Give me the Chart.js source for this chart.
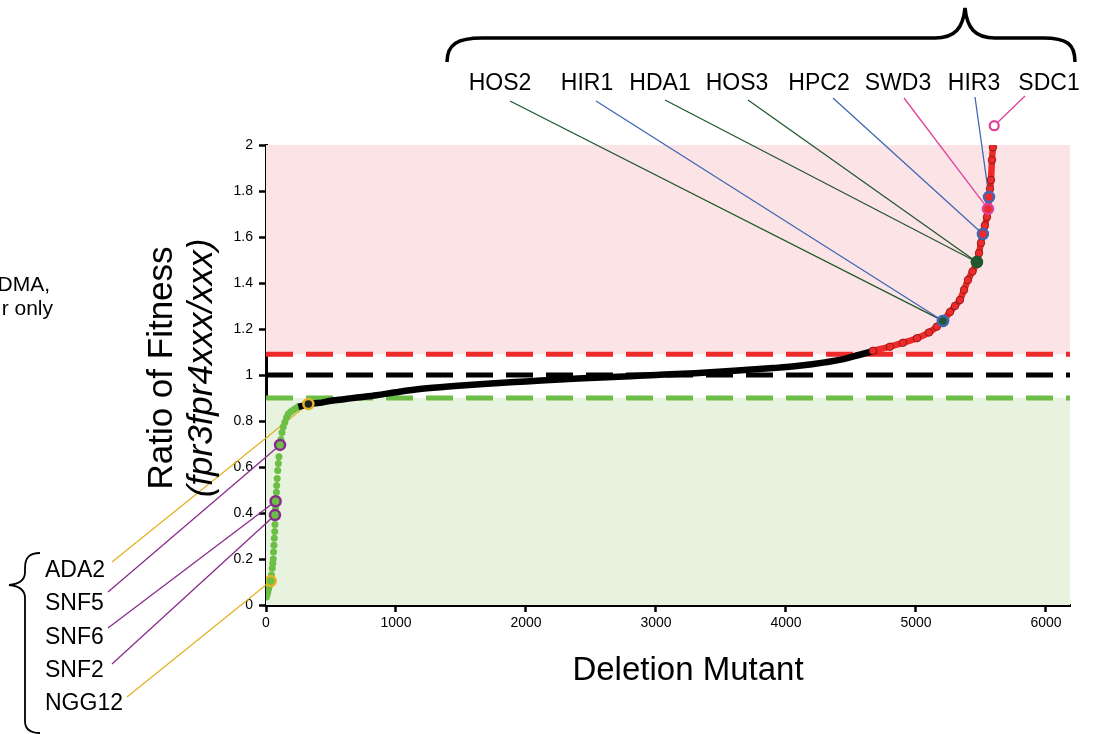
<!DOCTYPE html>
<html>
<head>
<meta charset="utf-8">
<script src="https://cdn.jsdelivr.net/npm/chart.js@4.4.1/dist/chart.umd.min.js"></script>
<style>
  body { margin: 0; background: #fff; }
  canvas { display: block; }
</style>
</head>
<body>
<canvas id="myChart" width="1097" height="734"></canvas>
<script>
// ranked deletion mutants
const lowRanks = [3, 8, 13, 20, 27, 32, 36, 42, 48, 52, 56, 58, 61, 64, 67, 69, 72, 74, 77, 80, 82, 86, 90, 95, 100, 108, 115, 123, 133, 145, 158, 172, 190, 210, 230, 249];
const lowValues = [0.035, 0.045, 0.055, 0.07, 0.085, 0.095, 0.105, 0.13, 0.16, 0.18, 0.2, 0.23, 0.26, 0.29, 0.32, 0.35, 0.39, 0.42, 0.45, 0.49, 0.52, 0.55, 0.585, 0.615, 0.645, 0.69, 0.72, 0.75, 0.775, 0.795, 0.815, 0.83, 0.84, 0.848, 0.855, 0.862];

const midRanks = [249, 290, 326, 380, 430, 500, 600, 700, 850, 1000, 1200, 1450, 1700, 2000, 2400, 2800, 3000, 3300, 3600, 3900, 4100, 4300, 4450, 4560, 4700];
const midValues = [0.862, 0.868, 0.874, 0.877, 0.88, 0.888, 0.895, 0.902, 0.912, 0.925, 0.94, 0.952, 0.962, 0.972, 0.985, 0.995, 1.0, 1.008, 1.018, 1.03, 1.04, 1.055, 1.07, 1.087, 1.108];

const highRanks = [4669, 4800, 4900, 5008, 5100, 5160, 5208, 5262, 5300, 5338, 5370, 5400, 5435, 5469, 5485, 5500, 5515, 5530, 5546, 5554, 5562, 5570, 5577, 5585, 5592];
const highValues = [1.105, 1.123, 1.14, 1.16, 1.185, 1.21, 1.235, 1.274, 1.3, 1.326, 1.37, 1.413, 1.45, 1.491, 1.53, 1.574, 1.613, 1.65, 1.687, 1.722, 1.774, 1.81, 1.848, 1.935, 1.99];

const geneNames = ['HOS2', 'HIR1', 'HDA1', 'HOS3', 'HPC2', 'SWD3', 'HIR3', 'SDC1', 'ADA2', 'SNF5', 'SNF6', 'SNF2', 'NGG12'];
const geneRanks = [5208, 5208, 5469, 5469, 5515, 5554, 5562, 5602, 326, 108, 74, 69, 36];
const geneValues = [1.235, 1.235, 1.491, 1.491, 1.613, 1.722, 1.774, 2.084, 0.874, 0.696, 0.451, 0.391, 0.104];

const cutoffs = [0.9, 1.0, 1.09];
const xTicks = [0, 1000, 2000, 3000, 4000, 5000, 6000];
const yTicks = [0, 0.2, 0.4, 0.6, 0.8, 1, 1.2, 1.4, 1.6, 1.8, 2];

// styling for the gene call-outs
const blue = '#3f67b3', dkgreen = '#22582f', magenta = '#e0409a', purple = '#8a2a8f', gold = '#e2b324';
const geneLineColors = [dkgreen, blue, dkgreen, dkgreen, blue, magenta, blue, magenta, gold, purple, purple, purple, gold];
const geneRing = [blue, blue, dkgreen, dkgreen, blue, magenta, blue, magenta, gold, purple, purple, purple, gold];
const geneFill = [dkgreen, dkgreen, dkgreen, dkgreen, '#ee2a2a', '#ee2a2a', '#ee2a2a', '#ffffff', '#222', '#6cbf45', '#6cbf45', '#6cbf45', '#6cbf45'];
const labelAnchor = [[510, 101], [596, 101], [665, 100], [748, 100], [833, 98], [904, 98], [975, 97], [1025, 96],
                     [112, 562], [108, 592], [108, 628], [112, 664], [127, 697]];
const labelPos = [[500, 84], [587, 84], [660, 84], [737, 84], [819, 84], [898, 84], [974, 84], [1049, 84],
                  [45, 571], [45, 604], [45, 638], [45, 671], [45, 704]];

const FONT = "'Liberation Sans', Arial, sans-serif";

function toPoints(xs, ys) {
  return xs.map((x, i) => ({ x: x, y: ys[i] }));
}

const bandsPlugin = {
  id: 'bands',
  beforeDatasetsDraw(chart) {
    const ctx = chart.ctx;
    const a = chart.chartArea;
    const y = chart.scales.y;
    ctx.save();
    ctx.fillStyle = '#fce4e6';
    ctx.fillRect(a.left, y.getPixelForValue(2), a.right - a.left, y.getPixelForValue(cutoffs[2]) - y.getPixelForValue(2));
    ctx.fillStyle = '#e7f2df';
    ctx.fillRect(a.left, y.getPixelForValue(cutoffs[0]), a.right - a.left, y.getPixelForValue(0) - y.getPixelForValue(cutoffs[0]));

    const dashColors = ['#6cbd45', '#000000', '#ee2a2a'];
    ctx.lineWidth = 5;
    ctx.setLineDash([27, 13]);
    cutoffs.forEach((c, i) => {
      const py = y.getPixelForValue(c);
      ctx.strokeStyle = dashColors[i];
      ctx.beginPath();
      ctx.moveTo(a.left, py);
      ctx.lineTo(a.right, py);
      ctx.stroke();
    });
    ctx.setLineDash([]);

    // leader lines from labels to the marked mutants
    ctx.lineWidth = 1.3;
    geneNames.forEach((g, i) => {
      const px = chart.scales.x.getPixelForValue(geneRanks[i]);
      const py = y.getPixelForValue(geneValues[i]);
      const sx = labelAnchor[i][0], sy = labelAnchor[i][1];
      const d = Math.hypot(px - sx, py - sy);
      ctx.strokeStyle = geneLineColors[i];
      ctx.beginPath();
      ctx.moveTo(sx, sy);
      ctx.lineTo(px - (px - sx) * 5 / d, py - (py - sy) * 5 / d);
      ctx.stroke();
    });
    ctx.restore();
  }
};

const textPlugin = {
  id: 'texts',
  afterDatasetsDraw(chart) {
    // markers that sit above the plot area (Chart.js skips them)
    const ctx = chart.ctx;
    const a = chart.chartArea;
    ctx.save();
    geneNames.forEach((g, i) => {
      const px = chart.scales.x.getPixelForValue(geneRanks[i]);
      const py = chart.scales.y.getPixelForValue(geneValues[i]);
      if (py >= a.top - 1) return;
      ctx.beginPath();
      ctx.arc(px, py, 4.5, 0, Math.PI * 2);
      ctx.fillStyle = geneFill[i];
      ctx.fill();
      ctx.lineWidth = 2.2;
      ctx.strokeStyle = geneRing[i];
      ctx.stroke();
    });
    ctx.restore();
  },
  afterDraw(chart) {
    const ctx = chart.ctx;
    ctx.save();
    ctx.fillStyle = '#000';
    ctx.strokeStyle = '#000';

    ctx.font = '23px ' + FONT;
    ctx.textBaseline = 'middle';
    geneNames.forEach((g, i) => {
      ctx.textAlign = i < 8 ? 'center' : 'left';
      ctx.fillText(g, labelPos[i][0], labelPos[i][1]);
    });

    // braces
    ctx.lineWidth = 3.5;
    ctx.beginPath();
    ctx.moveTo(447, 62);
    ctx.bezierCurveTo(447, 44, 458, 38, 482, 38);
    ctx.lineTo(935, 38);
    ctx.bezierCurveTo(955, 38, 963, 28, 965, 8);
    ctx.bezierCurveTo(967, 28, 975, 38, 995, 38);
    ctx.lineTo(1043, 38);
    ctx.bezierCurveTo(1067, 38, 1075, 44, 1075, 62);
    ctx.stroke();

    ctx.lineWidth = 1.8;
    ctx.beginPath();
    ctx.moveTo(40, 553);
    ctx.bezierCurveTo(30, 553, 25, 557, 25, 568);
    ctx.lineTo(25, 572);
    ctx.bezierCurveTo(25, 580, 20, 584, 9, 585);
    ctx.bezierCurveTo(20, 586, 25, 590, 25, 598);
    ctx.lineTo(25, 721);
    ctx.bezierCurveTo(25, 729, 30, 733, 40, 733);
    ctx.stroke();

    // clipped note on the left
    ctx.font = '21px ' + FONT;
    ctx.textAlign = 'right';
    ctx.textBaseline = 'alphabetic';
    ctx.fillText('DMA,', 50, 291);
    ctx.fillText('r only', 53, 315);

    // axis titles
    ctx.font = '33px ' + FONT;
    ctx.textAlign = 'center';
    ctx.fillText('Deletion Mutant', 688, 680);

    ctx.translate(172, 368);
    ctx.rotate(-Math.PI / 2);
    ctx.font = '35px ' + FONT;
    ctx.fillText('Ratio of Fitness', 0, 0);
    ctx.font = 'italic 35px ' + FONT;
    ctx.fillText('(fpr3fpr4xxx/xxx)', 0, 40);
    ctx.restore();
  }
};

function myChart() {
  const ctx = document.getElementById('myChart');

  new Chart(ctx, {
    type: 'scatter',
    data: {
      datasets: [
        {
          label: 'marked',
          data: toPoints(geneRanks, geneValues),
          pointRadius: 5,
          pointBorderWidth: 2.5,
          pointBorderColor: geneRing,
          pointBackgroundColor: geneFill
        },
        {
          label: 'high',
          data: toPoints(highRanks, highValues),
          showLine: true,
          borderColor: '#ee2a2a',
          borderWidth: 6.5,
          cubicInterpolationMode: 'monotone',
          pointRadius: 3.8,
          pointBackgroundColor: '#ee2a2a',
          pointBorderColor: '#6a1010',
          pointBorderWidth: 0.7
        },
        {
          label: 'mid',
          data: toPoints(midRanks, midValues),
          showLine: true,
          borderColor: '#000',
          borderWidth: 6.5,
          cubicInterpolationMode: 'monotone',
          pointRadius: 0
        },
        {
          label: 'low',
          data: toPoints(lowRanks, lowValues),
          pointRadius: 3.5,
          pointBackgroundColor: '#6cbf45',
          pointBorderWidth: 0
        }
      ]
    },
    options: {
      responsive: false,
      animation: false,
      layout: { padding: { left: 216, top: 145, right: 27, bottom: 0 } },
      plugins: {
        legend: { display: false },
        tooltip: { enabled: false }
      },
      scales: {
        x: {
          type: 'linear',
          min: 0,
          max: 6185,
          afterFit: (s) => { s.height = 129; },
          afterBuildTicks: (s) => { s.ticks = xTicks.map(v => ({ value: v })); },
          grid: { drawOnChartArea: false, tickLength: 7, tickWidth: 2.5, tickColor: '#000' },
          border: { width: 3, color: '#000' },
          ticks: {
            color: '#000', font: { family: FONT, size: 14 }, padding: 3, maxRotation: 0,
            callback: (v) => String(v)
          }
        },
        y: {
          min: 0,
          max: 2,
          afterFit: (s) => { s.width = 50; },
          afterBuildTicks: (s) => { s.ticks = yTicks.map(v => ({ value: v })); },
          grid: { drawOnChartArea: false, tickLength: 7, tickWidth: 2.5, tickColor: '#000' },
          border: { width: 3, color: '#000' },
          ticks: {
            color: '#000', font: { family: FONT, size: 14 }, padding: 6,
            callback: (v) => String(Math.round(v * 10) / 10)
          }
        }
      }
    },
    plugins: [bandsPlugin, textPlugin]
  });
}

myChart()
</script>
</body>
</html>
